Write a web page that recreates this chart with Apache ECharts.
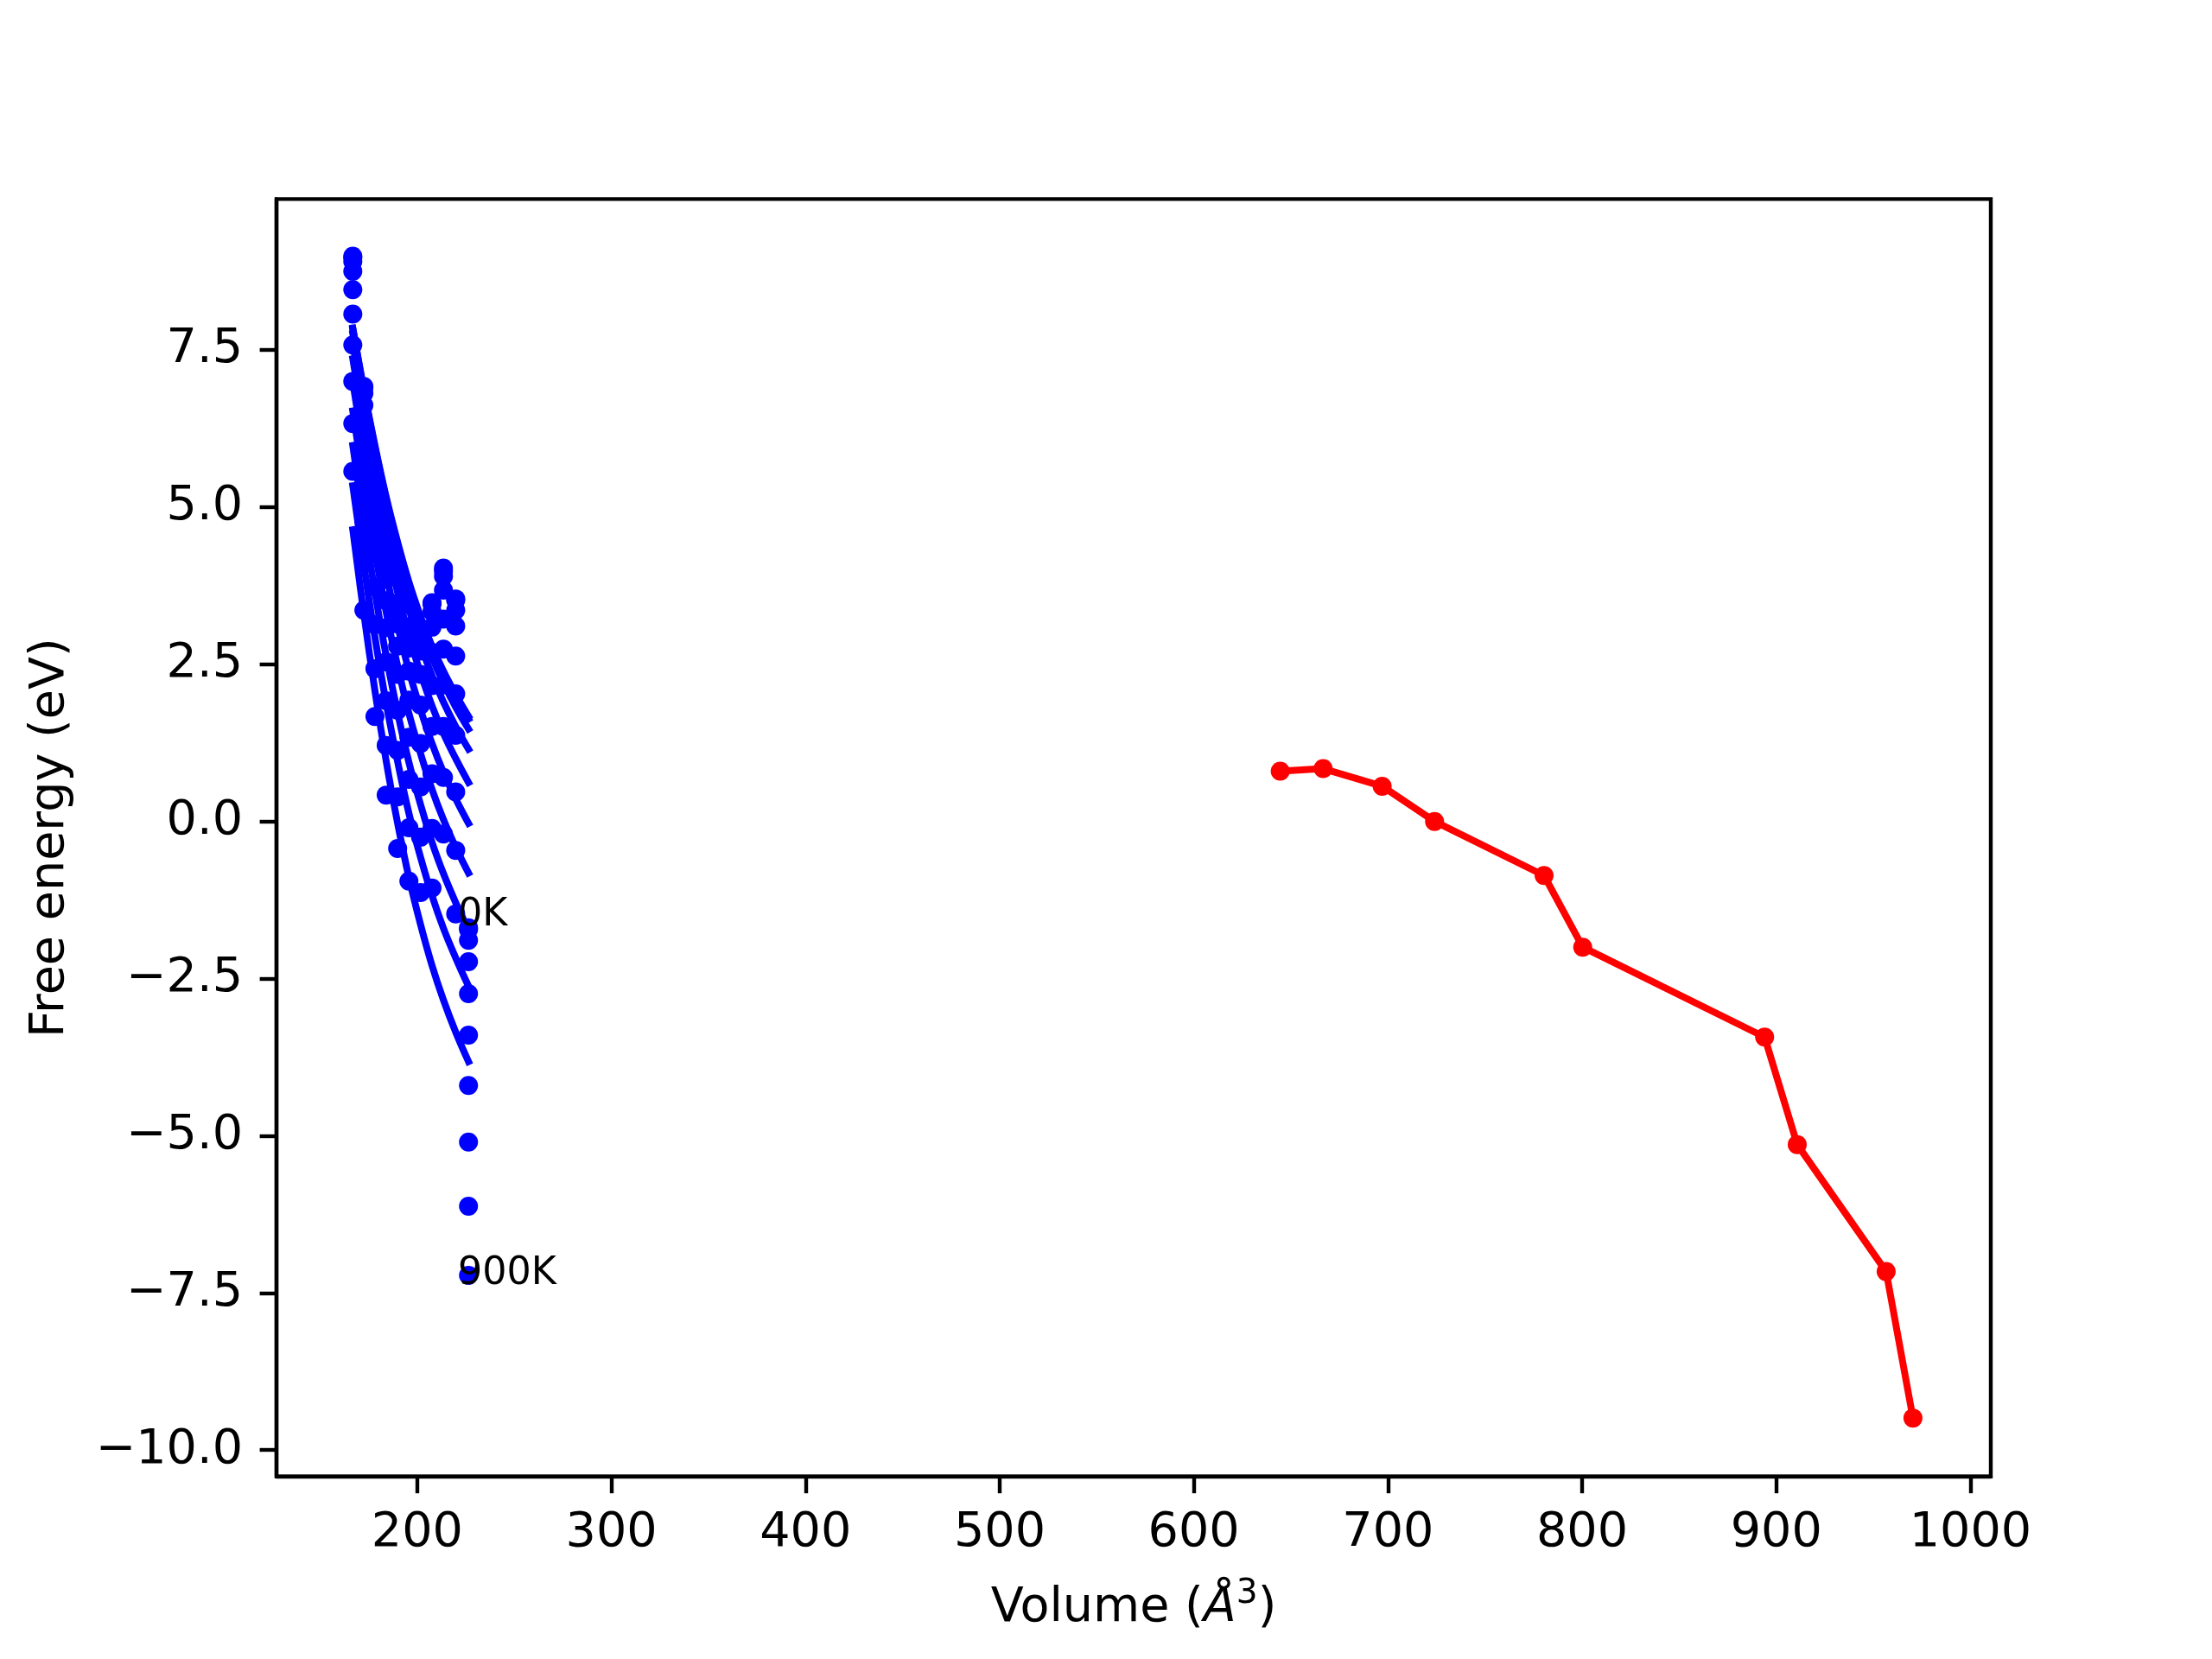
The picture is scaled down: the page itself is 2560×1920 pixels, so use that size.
<!DOCTYPE html>
<html>
<head>
<meta charset="utf-8">
<script src="https://cdn.jsdelivr.net/npm/echarts@6/dist/echarts.min.js"></script>
<style>html,body{margin:0;padding:0;background:#fff}#c{width:2560px;height:1920px}</style>
</head>
<body>
<div id="c"></div>
<script>
// ---- data ----
const volumes = [166.8, 172.5, 178.2, 184.0, 189.9, 195.7, 201.7, 207.6, 213.5, 219.8, 226.4];
const temperatures = ['0K','100K','200K','300K','400K','500K','600K','700K','800K','900K'];

// free-energy points at each volume, one array per temperature
const points0K   = [8.99, 6.92, 5.31, 4.17, 3.47, 3.10, 3.07, 3.48, 4.03, 3.54, -1.69];
const points100K = [8.97, 6.90, 5.29, 4.15, 3.45, 3.08, 3.05, 3.46, 3.98, 3.52, -1.72];
const points200K = [8.91, 6.81, 5.20, 4.06, 3.35, 2.98, 2.94, 3.34, 3.90, 3.36, -1.89];
const points300K = [8.75, 6.62, 5.00, 3.85, 3.14, 2.76, 2.71, 3.09, 3.68, 3.11, -2.23];
const points400K = [8.46, 6.30, 4.67, 3.51, 2.79, 2.39, 2.34, 2.69, 3.22, 2.63, -2.74];
const points500K = [8.07, 5.89, 4.25, 3.08, 2.34, 1.93, 1.85, 2.16, 2.74, 2.03, -3.40];
const points600K = [7.58, 5.37, 3.73, 2.54, 1.77, 1.34, 1.24, 1.51, 2.17, 1.37, -4.20];
const points700K = [7.00, 4.78, 3.13, 1.92, 1.13, 0.67, 0.55, 0.76, 1.51, 0.47, -5.10];
const points800K = [6.33, 4.11, 2.43, 1.21, 0.39, -0.10, -0.25, -0.11, 0.70, -0.46, -6.12];
const points900K = [5.57, 3.36, 1.67, 0.42, -0.43, -0.95, -1.13, -1.06, -0.20, -1.47, -7.22];

// fitted curves, read at the same volumes
const fit0K   = [7.85, 6.87, 5.98, 5.16, 4.44, 3.81, 3.26, 2.79, 2.39, 2.02, 1.67];
const fit100K = [7.83, 6.85, 5.95, 5.13, 4.41, 3.78, 3.23, 2.75, 2.35, 1.98, 1.63];
const fit200K = [7.76, 6.77, 5.85, 5.02, 4.29, 3.65, 3.09, 2.61, 2.20, 1.82, 1.47];
const fit300K = [7.60, 6.58, 5.65, 4.79, 4.04, 3.38, 2.81, 2.32, 1.90, 1.51, 1.15];
const fit400K = [7.36, 6.30, 5.32, 4.43, 3.64, 2.95, 2.36, 1.84, 1.40, 1.00, 0.62];
const fit500K = [6.99, 5.88, 4.86, 3.94, 3.11, 2.40, 1.78, 1.24, 0.78, 0.36, -0.03];
const fit600K = [6.53, 5.37, 4.30, 3.33, 2.47, 1.72, 1.08, 0.51, 0.03, -0.41, -0.82];
const fit700K = [5.98, 4.76, 3.65, 2.63, 1.73, 0.94, 0.27, -0.33, -0.83, -1.29, -1.72];
const fit800K = [5.34, 4.08, 2.93, 1.88, 0.95, 0.13, -0.57, -1.18, -1.70, -2.17, -2.62];
const fit900K = [4.64, 3.30, 2.08, 0.96, -0.03, -0.89, -1.64, -2.29, -2.84, -3.35, -3.82];

// equilibrium line (red)
const eqVolumes  = [644.5, 666.6, 697.0, 724.0, 780.4, 800.3, 894.0, 910.8, 956.6, 970.4];
const eqEnergies = [0.80, 0.84, 0.56, 0.00, -0.86, -2.00, -3.43, -5.14, -7.16, -9.49];

// temperature annotations (text, volume, energy)
const annotTexts    = ['0K', '900K'];
const annotVolumes  = [221.0, 221.0];
const annotEnergies = [-1.50, -7.20];

const xTicks = [200, 300, 400, 500, 600, 700, 800, 900, 1000];
const yTicks = [-10, -7.5, -5, -2.5, 0, 2.5, 5, 7.5];

// ---- chart ----
const pointSets = [points0K, points100K, points200K, points300K, points400K, points500K, points600K, points700K, points800K, points900K];
const fitSets = [fit0K, fit100K, fit200K, fit300K, fit400K, fit500K, fit600K, fit700K, fit800K, fit900K];

const FONT = 'DejaVu Sans';
const FS = 55.6;      // 10pt at 400 dpi
const FS_ANN = 44.4;  // annotation text
const BLUE = '#0000ff', RED = '#ff0000';
const LW = 8, MS = 22;

const series = [];
temperatures.forEach((t, i) => {
  series.push({
    name: 'pts' + t, type: 'scatter', symbol: 'circle', symbolSize: MS,
    itemStyle: { color: BLUE, opacity: 1 },
    data: volumes.map((v, j) => [v, pointSets[i][j]]),
    silent: true
  });
  series.push({
    name: 'fit' + t, type: 'line', showSymbol: false, smooth: 0.4,
    lineStyle: { color: BLUE, width: LW, cap: 'square', join: 'round' },
    data: volumes.map((v, j) => [v, fitSets[i][j]]),
    silent: true
  });
});
series.push({
  name: 'eq', type: 'line', symbol: 'circle', symbolSize: MS, showSymbol: true,
  lineStyle: { color: RED, width: LW }, itemStyle: { color: RED, opacity: 1 },
  data: eqVolumes.map((v, j) => [v, eqEnergies[j]]),
  silent: true, z: 3
});
series.push({
  name: 'labels', type: 'scatter', symbolSize: 0,
  data: annotTexts.map((s, j) => [annotVolumes[j], annotEnergies[j], s]),
  label: {
    show: true, position: 'right', distance: 0, opacity: 1,
    formatter: p => p.data[2],
    fontFamily: FONT, fontSize: FS_ANN, color: '#000000', textBorderWidth: 0,
    align: 'left', verticalAlign: 'middle'
  },
  silent: true, z: 5
});

const fmtY = v => (v < 0 ? '\u2212' : '') + Math.abs(v).toFixed(1);
const fmtX = v => String(v);

const option = {
  animation: false,
  backgroundColor: '#ffffff',
  grid: { left: 320, right: 256, top: 230.4, bottom: 211.2, show: true, borderColor: '#000', borderWidth: 4.4, backgroundColor: 'transparent' },
  xAxis: {
    type: 'value', min: 127.5, max: 1010.5,
    splitLine: { show: false },
    axisLine: { show: true, onZero: false, lineStyle: { color: '#000', width: 4.4 } },
    axisTick: { show: true, length: 19.4, inside: false, customValues: xTicks, lineStyle: { color: '#000', width: 4.4 } },
    axisLabel: { customValues: xTicks, formatter: fmtX, fontFamily: FONT, fontSize: FS, color: '#000', margin: 38 },
    name: '{n|Volume (}{i|\u00C5}{s|3}{n|)}',
    nameLocation: 'middle', nameGap: 153,
    nameTextStyle: {
      verticalAlign: 'middle',
      rich: {
        n: { fontFamily: FONT, fontSize: FS, color: '#000', lineHeight: 72 },
        i: { fontFamily: FONT, fontSize: FS, fontStyle: 'italic', color: '#000', lineHeight: 72 },
        s: { fontFamily: FONT, fontSize: 39, color: '#000', verticalAlign: 'top', lineHeight: 30 }
      }
    }
  },
  yAxis: {
    type: 'value', min: -10.42, max: 9.90,
    splitLine: { show: false },
    axisLine: { show: true, onZero: false, lineStyle: { color: '#000', width: 4.4 } },
    axisTick: { show: true, length: 19.4, inside: false, customValues: yTicks, lineStyle: { color: '#000', width: 4.4 } },
    axisLabel: { customValues: yTicks, formatter: fmtY, fontFamily: FONT, fontSize: FS, color: '#000', margin: 39 },
    name: 'Free energy (eV)',
    nameLocation: 'middle', nameGap: 261, nameRotate: 90,
    nameTextStyle: { fontFamily: FONT, fontSize: FS, color: '#000', verticalAlign: 'middle' }
  },
  series: series
};

const chart = echarts.init(document.getElementById('c'), null, { renderer: 'canvas', width: 2560, height: 1920 });
chart.setOption(option);
</script>
</body>
</html>
